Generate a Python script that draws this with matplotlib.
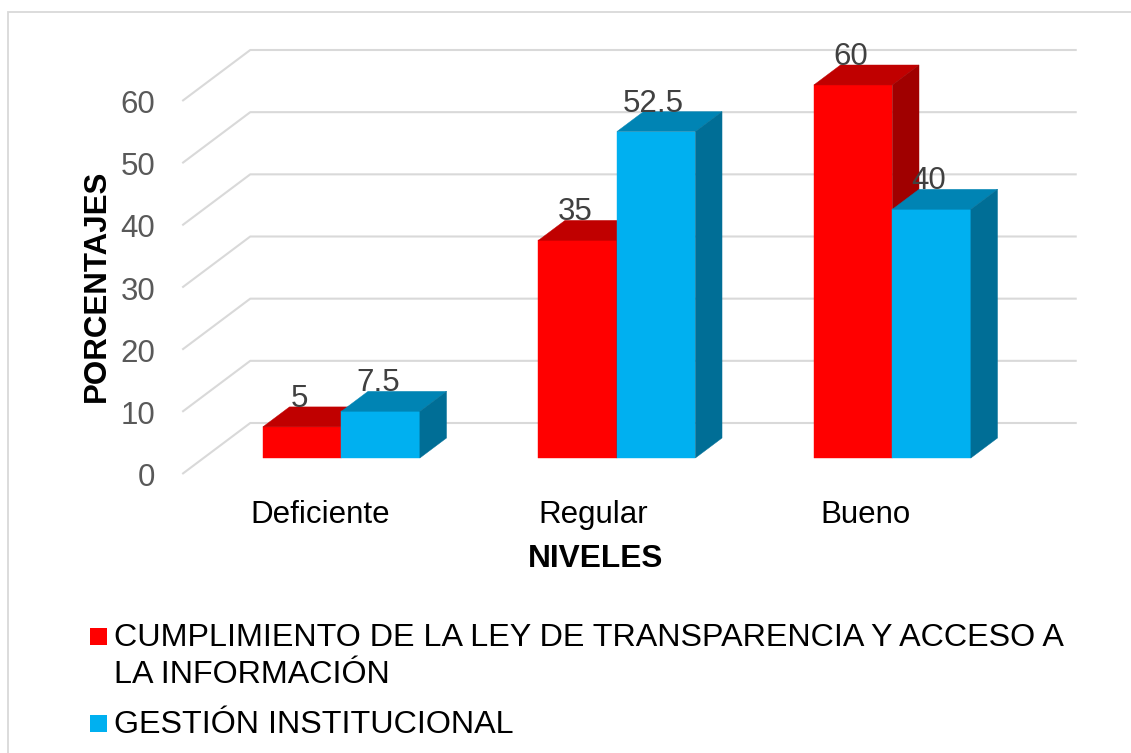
import matplotlib
matplotlib.use('Agg')
import matplotlib.pyplot as plt
from matplotlib.patches import Polygon, Rectangle
import numpy as np

# ---- data ----
categories = ['Deficiente', 'Regular', 'Bueno']
cumplimiento = [5, 35, 60]
gestion = [7.5, 52.5, 40]
series_names = ['CUMPLIMIENTO DE LA LEY DE TRANSPARENCIA Y ACCESO A', 'LA INFORMACIÓN', 'GESTIÓN INSTITUCIONAL']
yticks = [0, 10, 20, 30, 40, 50, 60]
x_title = 'NIVELES'
y_title = 'PORCENTAJES'

plt.rcParams['font.family'] = ['Liberation Sans', 'DejaVu Sans']
FS = 22.5
FS_LEG = 23.2

W, H = 1131, 753
fig = plt.figure(figsize=(W / 100, H / 100), dpi=100)
fig.patch.set_facecolor('white')

ax = fig.add_axes([182.25 / W, (H - 474) / H, 826.5 / W, 373 / H])
ax.set_xlim(-0.5, 2.5)
ax.set_ylim(0, 60)
ax.axis('off')

px_x = 826.5 / 3.0        # pixels per category unit
px_y = 373 / 60.0         # pixels per value unit
DX = 68 / px_x            # full floor depth, x
DY = 51 / px_y            # full floor depth, y
d0, d1 = 0.314, 0.706     # bar depth front/back fraction
w = 0.285                 # bar width

grid_c = '#D9D9D9'
for v in yticks:
    ax.plot([-0.5, -0.5 + DX, 2.5 + DX], [v, v + DY, v + DY], color=grid_c,
            lw=1.5, clip_on=False, zorder=1, solid_capstyle='butt')
    ax.text(-0.5 - 27 / px_x, v - 12 / px_y, str(v), ha='right', va='baseline',
            fontsize=FS, color='#595959')

x = np.arange(len(categories))


def bar3d(xl, h, cf, ct, cs, z):
    xr = xl + w
    ax.bar(xl + d0 * DX, h, width=w, bottom=d0 * DY, align='edge', color=cf,
           edgecolor=cf, lw=0.3, zorder=z, clip_on=False)
    top = [(xl + d0 * DX, h + d0 * DY), (xr + d0 * DX, h + d0 * DY),
           (xr + d1 * DX, h + d1 * DY), (xl + d1 * DX, h + d1 * DY)]
    side = [(xr + d0 * DX, d0 * DY), (xr + d1 * DX, d1 * DY),
            (xr + d1 * DX, h + d1 * DY), (xr + d0 * DX, h + d0 * DY)]
    ax.add_patch(Polygon(top, closed=True, fc=ct, ec=ct, lw=0.3, zorder=z, clip_on=False))
    ax.add_patch(Polygon(side, closed=True, fc=cs, ec=cs, lw=0.3, zorder=z, clip_on=False))
    ax.text(xl + w / 2 + d0 * DX - 0.01, h + d1 * DY, f'{h:g}', ha='center', va='baseline',
            fontsize=FS, color='#404040', zorder=10)


for i in range(len(categories)):
    bar3d(x[i] - w, cumplimiento[i], '#FF0000', '#C00000', '#A00000', 3 + 2 * i)
    bar3d(x[i], gestion[i], '#00B0F0', '#0084B4', '#006E96', 4 + 2 * i)
    ax.text(x[i] - 0.01 * i, -49 / px_y, categories[i], ha='center', va='baseline',
            fontsize=FS, color='black')

ax.text(1, -93 / px_y, x_title, ha='center', va='baseline', fontsize=FS + 0.3,
        fontweight='bold', color='black')
ax.text(-0.5 - 77 / px_x, 30.24, y_title, ha='center', va='baseline', rotation=90,
        rotation_mode='anchor', fontsize=FS, fontweight='bold', color='black')

# chart border
fig.add_artist(Rectangle((8 / W, -0.05), 1.2, (H - 12) / H + 0.05, transform=fig.transFigure,
                         fill=False, ec='#D9D9D9', lw=1.3))

# legend
fig.add_artist(Rectangle((90 / W, 1 - 645 / H), 17 / W, 17 / H, transform=fig.transFigure,
                         fc='#FF0000', ec='none'))
fig.text(114 / W, 1 - 646 / H, series_names[0], ha='left', va='baseline', fontsize=FS_LEG, color='black')
fig.text(114 / W, 1 - 683 / H, series_names[1], ha='left', va='baseline', fontsize=FS_LEG, color='black')
fig.add_artist(Rectangle((90 / W, 1 - 732 / H), 17 / W, 17 / H, transform=fig.transFigure,
                         fc='#00B0F0', ec='none'))
fig.text(114 / W, 1 - 733 / H, series_names[2], ha='left', va='baseline', fontsize=FS_LEG, color='black')

fig.savefig('out.png', dpi=100)
